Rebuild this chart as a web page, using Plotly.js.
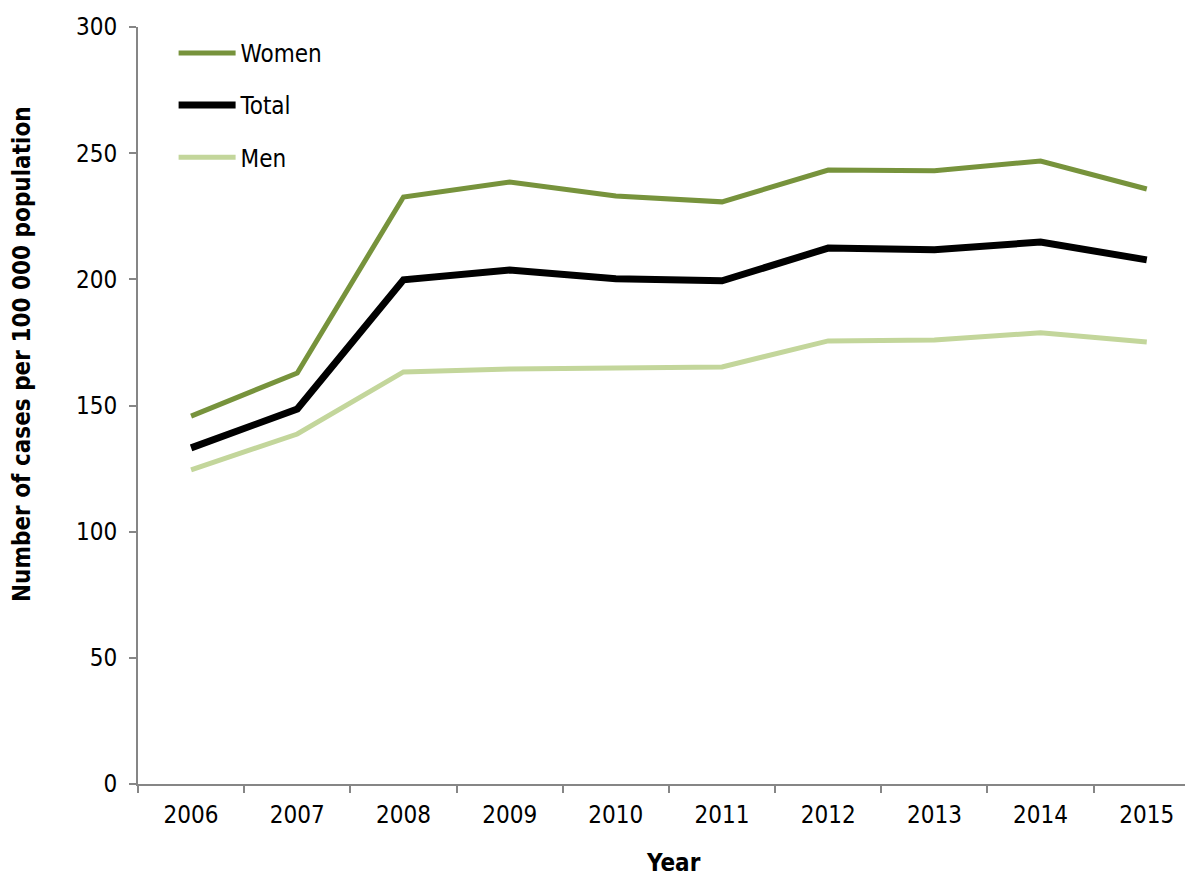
<!DOCTYPE html>
<html>
<head>
<meta charset="utf-8">
<script src="https://cdn.plot.ly/plotly-3.0.1.min.js"></script>
<style>html,body{margin:0;padding:0;background:#fff;}#chart{width:1185px;height:877px;}</style>
</head>
<body>
<div id="chart"></div>
<script>
var years = ["2006","2007","2008","2009","2010","2011","2012","2013","2014","2015"];
var women = [145.8, 162.9, 232.6, 238.6, 233.0, 230.7, 243.3, 243.0, 246.9, 235.8];
var total = [133.2, 148.6, 199.8, 203.7, 200.2, 199.4, 212.4, 211.7, 214.8, 207.7];
var men   = [124.5, 138.7, 163.3, 164.5, 164.9, 165.3, 175.6, 176.0, 178.8, 175.2];
var yTicks = [0, 50, 100, 150, 200, 250, 300];
var xTitle = "Year";
var yTitle = "Number of cases per 100 000 population";

var fontFam = "'DejaVu Sans Condensed', 'DejaVu Sans', sans-serif";

var traces = [
  {x: years, y: women, name: "Women", type: "scatter", mode: "lines", legendgroup: "w",
   line: {color: "#77933C", width: 5}},
  {x: years, y: total, name: "Total", type: "scatter", mode: "lines", legendgroup: "t",
   line: {color: "#000000", width: 7}},
  {x: years, y: men, name: "Men", type: "scatter", mode: "lines", legendgroup: "m",
   line: {color: "#C3D69B", width: 5}}
];

var layout = {
  width: 1185, height: 877,
  margin: {l: 138, r: 0, t: 27, b: 93},
  paper_bgcolor: "#ffffff", plot_bgcolor: "#ffffff",
  font: {family: fontFam, size: 24, color: "#000000"},
  showlegend: true,
  legend: {x: 0.034, y: 0.995, xanchor: "left", yanchor: "top",
    traceorder: "grouped", tracegroupgap: 18, itemwidth: 57,
    bgcolor: "rgba(0,0,0,0)", font: {family: fontFam, size: 24}},
  xaxis: {type: "category", range: [-0.5, 9.36], tickson: "boundaries",
    ticks: "outside", ticklen: 7, tickcolor: "#868686", tickwidth: 2,
    showline: true, linecolor: "#868686", linewidth: 2,
    showgrid: false, zeroline: false, fixedrange: true,
    ticklabelstandoff: 8,
    tickfont: {family: fontFam, size: 24}},
  yaxis: {range: [0, 300], tickvals: yTicks, ticktext: yTicks.map(String),
    ticks: "outside", ticklen: 7, tickcolor: "#868686", tickwidth: 2,
    showline: true, linecolor: "#868686", linewidth: 2,
    showgrid: false, zeroline: false, fixedrange: true,
    ticklabelstandoff: 7,
    tickfont: {family: fontFam, size: 24}},
  annotations: [
    {text: "<b>" + xTitle + "</b>", xref: "paper", yref: "paper", x: 0.511, y: -0.1045,
     xanchor: "center", yanchor: "middle", showarrow: false, borderpad: 0,
     font: {family: fontFam, size: 24, color: "#000000"}},
    {text: "<b>" + yTitle + "</b>", xref: "paper", yref: "paper", x: -0.1108, y: 0.568,
     xanchor: "center", yanchor: "middle", showarrow: false, textangle: -90,
     font: {family: fontFam, size: 24, color: "#000000"}}
  ]
};

Plotly.newPlot("chart", traces, layout, {displayModeBar: false, staticPlot: true});
</script>
</body>
</html>
